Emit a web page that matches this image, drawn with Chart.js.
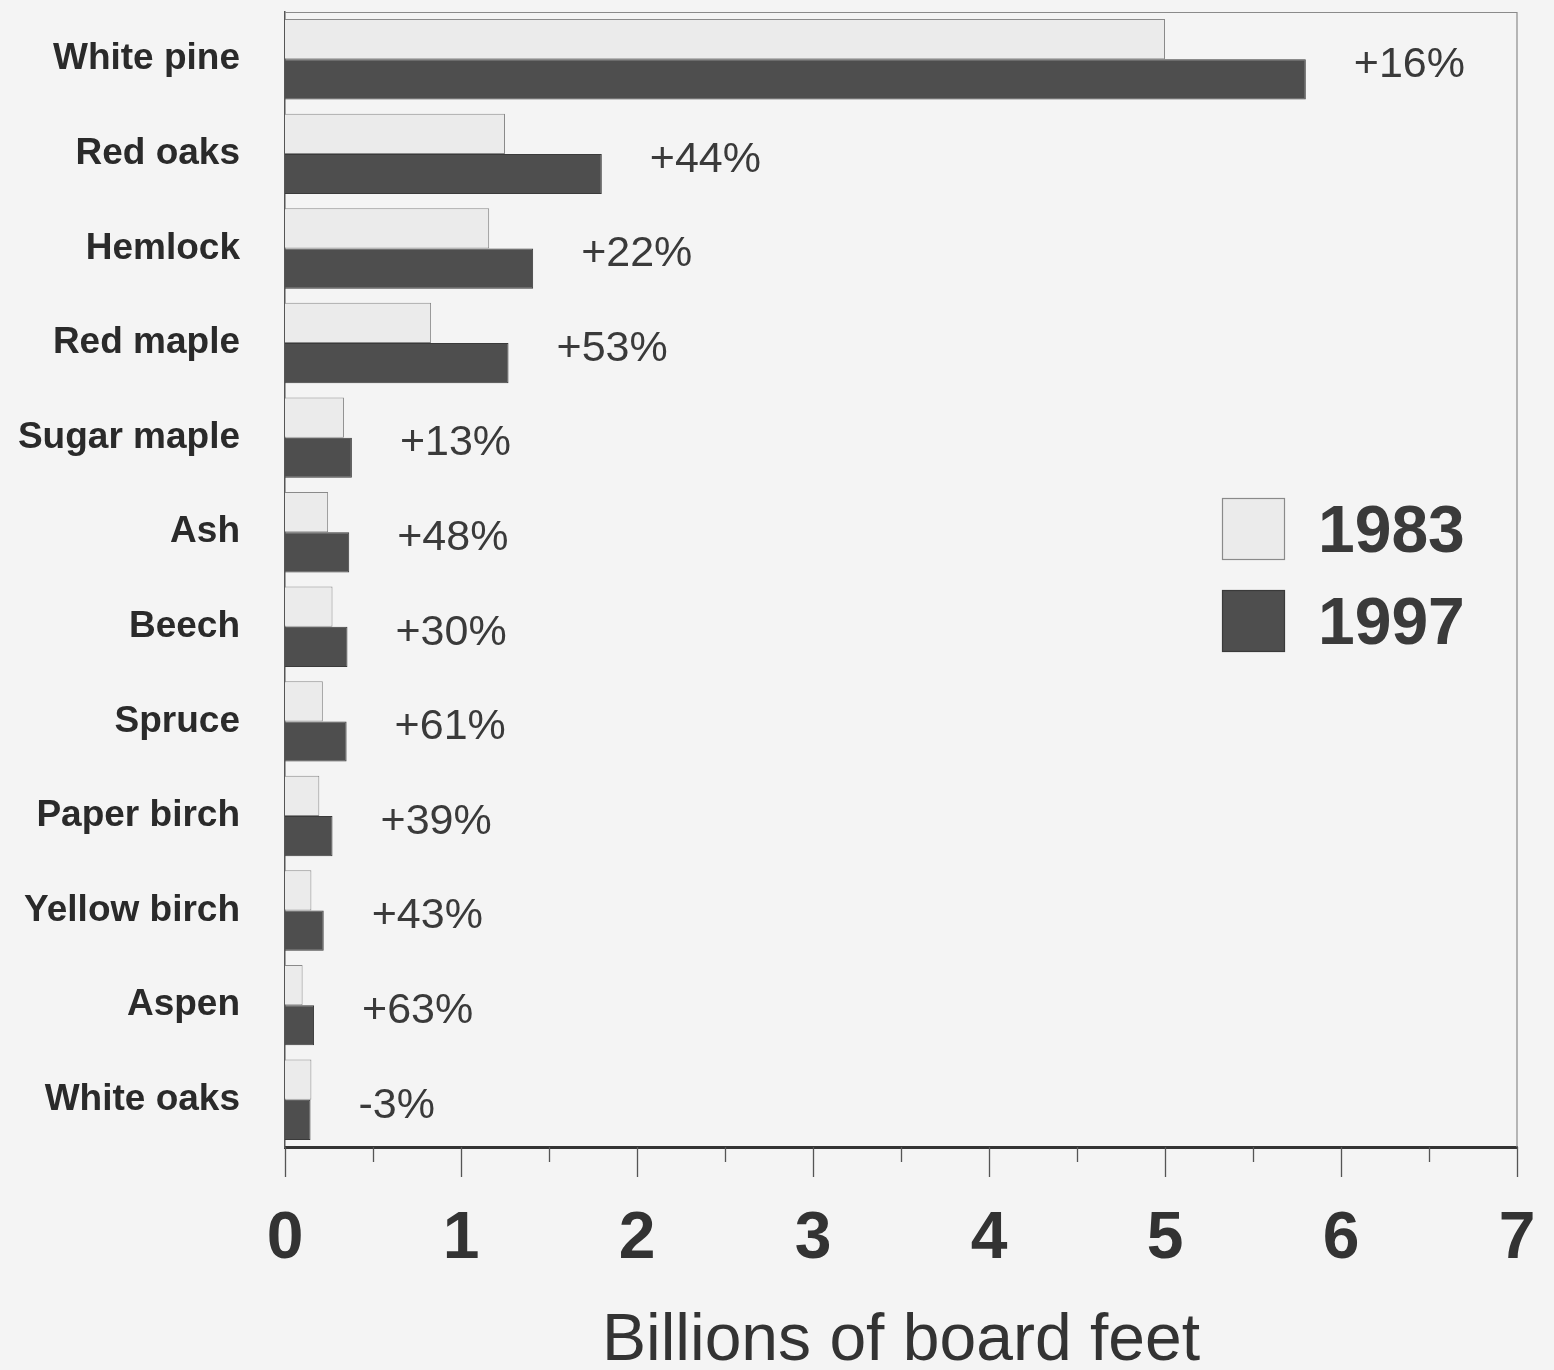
<!DOCTYPE html>
<html>
<head>
<meta charset="utf-8">
<script src="https://cdn.jsdelivr.net/npm/chart.js@4.4.0/dist/chart.umd.min.js"></script>
<style>
    html, body { margin: 0; padding: 0; background: #f4f4f4; }
    #wrap { width: 1554px; height: 1370px; }
</style>
</head>
<body>
<div id="wrap"><canvas id="grafico" width="1554" height="1370"></canvas></div>
<script>
const especies = ["White pine", "Red oaks", "Hemlock", "Red maple", "Sugar maple", "Ash",
    "Beech", "Spruce", "Paper birch", "Yellow birch", "Aspen", "White oaks"];
const valores1983 = [5.00, 1.25, 1.16, 0.83, 0.335, 0.245, 0.27, 0.215, 0.195, 0.15, 0.10, 0.15];
const valores1997 = [5.80, 1.80, 1.41, 1.27, 0.38, 0.365, 0.355, 0.35, 0.27, 0.22, 0.165, 0.145];
const cambios = ["+16%", "+44%", "+22%", "+53%", "+13%", "+48%", "+30%", "+61%", "+39%", "+43%", "+63%", "-3%"];
const anios = ["1983", "1997"];
const tituloX = "Billions of board feet";

Chart.defaults.font.family = "'Liberation Sans', Arial, Helvetica, sans-serif";

const colorClaro = "#ebebeb";
const colorOscuro = "#4e4e4e";

// fondo, marco, marcas menores, porcentajes y leyenda
const extras = {
    id: "extras",
    beforeDraw(chart) {
        const ctx = chart.ctx;
        ctx.save();
        ctx.fillStyle = "#f4f4f4";
        ctx.fillRect(0, 0, chart.width, chart.height);
        ctx.restore();
    },
    afterDraw(chart) {
        const ctx = chart.ctx;
        const area = chart.chartArea;
        const x = chart.scales.x;
        const y = chart.scales.y;
        ctx.save();

        // marco superior y derecho
        ctx.strokeStyle = "#8a8a8a";
        ctx.lineWidth = 1.2;
        ctx.beginPath();
        ctx.moveTo(area.left, area.top + 0.5);
        ctx.lineTo(area.right, area.top + 0.5);
        ctx.lineTo(area.right, area.bottom);
        ctx.stroke();

        // marcas del eje x
        ctx.strokeStyle = "#555";
        ctx.lineWidth = 1.3;
        for (let v = 0; v <= 7; v += 0.5) {
            const px = Math.round(x.getPixelForValue(v)) + 0.5;
            const largo = Number.isInteger(v) ? 30 : 15;
            ctx.beginPath();
            ctx.moveTo(px, area.bottom);
            ctx.lineTo(px, area.bottom + largo);
            ctx.stroke();
        }

        // porcentajes de cambio
        ctx.fillStyle = "#3a3a3a";
        ctx.font = "43px 'Liberation Sans', Arial, sans-serif";
        ctx.textAlign = "left";
        ctx.textBaseline = "middle";
        cambios.forEach((txt, i) => {
            const px = x.getPixelForValue(valores1997[i]) + 48;
            const py = y.getPixelForValue(i) + 6;
            ctx.fillText(txt, px, py);
        });

        // leyenda
        const lx = area.right - 295;
        const ly = area.top + 486;
        chart.data.datasets.forEach((ds, i) => {
            const top = ly + i * 92;
            ctx.fillStyle = ds.backgroundColor;
            ctx.fillRect(lx, top, 63, 62);
            ctx.strokeStyle = i === 0 ? "#8a8a8a" : "#3a3a3a";
            ctx.lineWidth = 1.2;
            ctx.strokeRect(lx + 0.5, top + 0.5, 62, 61);
            ctx.fillStyle = "#3a3a3a";
            ctx.font = "bold 66px 'Liberation Sans', Arial, sans-serif";
            ctx.textBaseline = "middle";
            ctx.fillText(ds.label, lx + 96, top + 36);
        });
        ctx.restore();
    }
};

new Chart(document.getElementById("grafico").getContext("2d"), {
    type: "bar",
    data: {
        labels: especies,
        datasets: [{
            label: anios[0],
            data: valores1983,
            backgroundColor: colorClaro,
            borderColor: "#8a8a8a",
            borderWidth: 1
        }, {
            label: anios[1],
            data: valores1997,
            backgroundColor: colorOscuro,
            borderColor: "#3a3a3a",
            borderWidth: 1
        }]
    },
    options: {
        indexAxis: "y",
        responsive: false,
        animation: false,
        barPercentage: 1,
        categoryPercentage: 0.85,
        layout: { padding: { top: 12, right: 37, left: 0, bottom: 0 } },
        plugins: {
            legend: { display: false },
            tooltip: { enabled: false }
        },
        scales: {
            x: {
                min: 0,
                max: 7,
                ticks: {
                    stepSize: 1,
                    color: "#333",
                    padding: 52,
                    font: { size: 66, weight: "bold", lineHeight: 1 }
                },
                grid: { display: false },
                border: { display: true, color: "#333", width: 3 },
                title: {
                    display: true,
                    text: tituloX,
                    color: "#333",
                    font: { size: 66, lineHeight: 0.85 },
                    padding: { top: 0, bottom: 0 }
                },
                afterFit(scale) {
                    scale.height = 223;
                    scale.paddingLeft = 0;
                    scale.paddingRight = 0;
                }
            },
            y: {
                ticks: {
                    color: "#2a2a2a",
                    padding: 37,
                    font: { size: 37, weight: "bold" }
                },
                grid: { display: false },
                border: { display: true, color: "#555", width: 1.5 },
                afterFit(scale) {
                    scale.width = 285;
                    scale.paddingTop = 0;
                    scale.paddingBottom = 0;
                }
            }
        }
    },
    plugins: [extras]
});
</script>
</body>
</html>
